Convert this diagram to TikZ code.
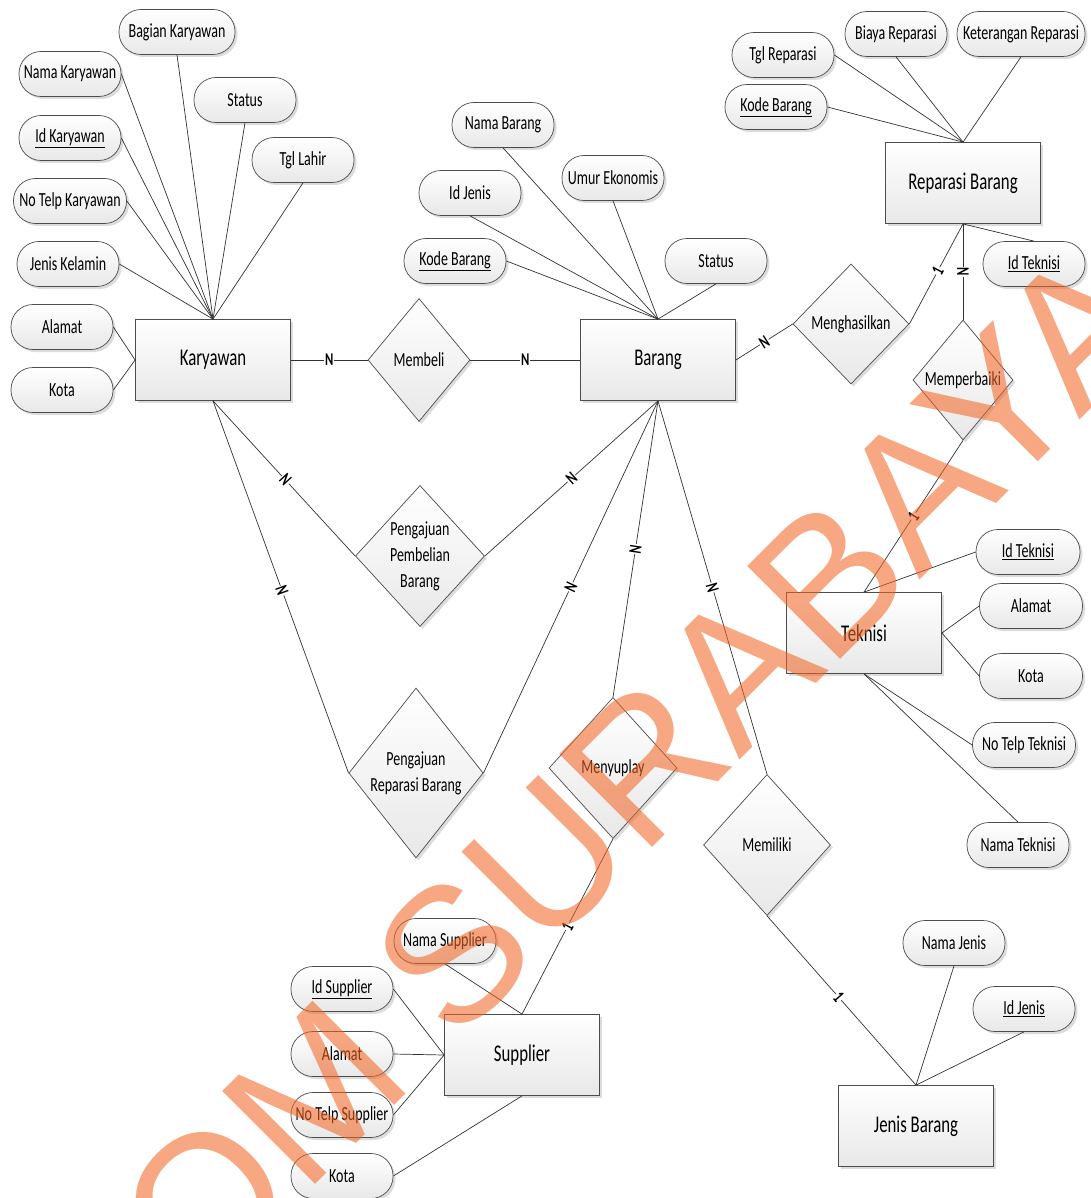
\documentclass[tikz,border=0pt]{standalone}
\usepackage{fontspec}
\setmainfont{Carlito}[FakeStretch=0.7]
\newfontfamily\stampfont{Liberation Sans}
\usetikzlibrary{shapes.geometric,shadows}
\definecolor{stamp}{RGB}{242,101,34}
\tikzset{
  softshadow/.style={drop shadow={shadow xshift=2.5pt,shadow yshift=-2.5pt,fill=black!30,opacity=0.45}},
  conn/.style={draw=black!80,line width=0.7pt},
  entity/.style={rectangle,draw=black!70,line width=0.8pt,top color=white,bottom color=black!9,
    minimum width=155pt,minimum height=81pt,inner sep=1pt,softshadow,
    font=\fontsize{24}{28}\selectfont},
  attr/.style={rectangle,rounded corners=22pt,draw=black!70,line width=0.7pt,top color=white,
    bottom color=black!9,minimum width=102pt,minimum height=45pt,inner sep=1pt,softshadow,
    font=\fontsize{20}{24}\selectfont},
  rel/.style={diamond,draw=black!70,line width=0.7pt,top color=white,bottom color=black!9,
    inner sep=0pt,align=center,softshadow,font=\fontsize{20}{26}\selectfont},
  card/.style={sloped,fill=white,inner sep=0.8pt,font=\fontsize{18}{18}\selectfont\bfseries}
}
\begin{document}
\begin{tikzpicture}[x=1pt,y=-1pt]
\useasboundingbox (0,0) rectangle (1091,1198);
\fill[white] (0,0) rectangle (1091,1198);

% entities
\node[entity] (kar) at (213,360) {Karyawan};
\node[entity] (barang) at (658,360) {Barang};
\node[entity] (rep) at (963,183) {Reparasi Barang};
\node[entity] (tek) at (864,633) {Teknisi};
\node[entity] (sup) at (522,1055) {Supplier};
\node[entity] (jenis) at (916,1126) {Jenis Barang};

% relationships
\node[rel,minimum width=102pt,minimum height=123pt] (membeli) at (419,360) {Membeli};
\node[rel,minimum width=116pt,minimum height=120pt] (mengh) at (851,324) {Menghasilkan};
\node[rel,minimum width=100pt,minimum height=120pt] (memp) at (963,380) {Memperbaiki};
\node[rel,minimum width=128pt,minimum height=141pt] (pp) at (420,556) {Pengajuan\\Pembelian\\Barang};
\node[rel,minimum width=129pt,minimum height=170pt] (pr) at (416,773) {Pengajuan\\Reparasi Barang};
\node[rel,minimum width=128pt,minimum height=141pt] (meny) at (613,768) {Menyuplay};
\node[rel,minimum width=127pt,minimum height=141pt] (memil) at (767,845) {Memiliki};

% attributes of Karyawan
\node[attr,minimum width=116pt] (bagk) at (177,32) {Bagian Karyawan};
\node[attr] (namak) at (70,74) {Nama Karyawan};
\node[attr] (statk) at (245,100) {Status};
\node[attr] (tgll) at (303,160) {Tgl Lahir};
\node[attr] (idk) at (70,138) {\underline{Id Karyawan}};
\node[attr,minimum width=113pt] (telpk) at (70,201) {No Telp Karyawan};
\node[attr] (jk) at (68,264) {Jenis Kelamin};
\node[attr] (alamk) at (62,327) {Alamat};
\node[attr] (kotak) at (62,390) {Kota};

% attributes of Barang
\node[attr] (namab) at (503,125) {Nama Barang};
\node[attr] (idjb) at (470,193) {Id Jenis};
\node[attr] (kodeb) at (455,261) {\underline{Kode Barang}};
\node[attr] (umur) at (613,178) {Umur Ekonomis};
\node[attr] (statb) at (716,261) {Status};

% attributes of Reparasi Barang
\node[attr] (tglr) at (783,55) {Tgl Reparasi};
\node[attr] (biaya) at (896,34) {Biaya Reparasi};
\node[attr,minimum width=128pt] (ket) at (1021,34) {Keterangan Reparasi};
\node[attr] (koder) at (776,107) {\underline{Kode Barang}};
\node[attr] (idtr) at (1034,264) {\underline{Id Teknisi}};

% attributes of Teknisi
\node[attr,minimum width=104pt] (idt) at (1028,552) {\underline{Id Teknisi}};
\node[attr,minimum width=103pt] (alt) at (1031,606) {Alamat};
\node[attr,minimum width=103pt] (kotat) at (1031,676) {Kota};
\node[attr,minimum width=103pt] (telpt) at (1024,745) {No Telp Teknisi};
\node[attr] (namat) at (1018,845) {Nama Teknisi};

% attributes of Supplier
\node[attr] (namas) at (445,941) {Nama Supplier};
\node[attr] (ids) at (342,989) {\underline{Id Supplier}};
\node[attr] (alams) at (342,1054) {Alamat};
\node[attr] (telps) at (342,1115) {No Telp Supplier};
\node[attr] (kotas) at (342,1176) {Kota};

% attributes of Jenis Barang
\node[attr] (namaj) at (954,943) {Nama Jenis};
\node[attr] (idj) at (1024,1009) {\underline{Id Jenis}};

% attribute links
\foreach \a in {bagk.south,namak.east,statk.south,tgll.south,idk.east,telpk.east,jk.east}
  \draw[conn] (\a) -- (kar.north);
\foreach \a in {alamk.east,kotak.east}
  \draw[conn] (\a) -- (kar.west);
\foreach \a in {namab.south,idjb.south,kodeb.east,umur.south,statb.south}
  \draw[conn] (\a) -- (barang.north);
\foreach \a in {tglr.east,biaya.south,ket.south,koder.east}
  \draw[conn] (\a) -- (rep.north);
\draw[conn] (rep.south) -- (idtr.north);
\draw[conn] (idt.west) -- (tek.north);
\draw[conn] (alt.west) -- (tek.east);
\draw[conn] (kotat.west) -- (tek.east);
\draw[conn] (telpt.west) -- (tek.south);
\draw[conn] (namat.north) -- (tek.south);
\draw[conn] (namas.south) -- (sup.north);
\foreach \a in {ids.east,alams.east,telps.east}
  \draw[conn] (\a) -- (sup.west);
\draw[conn] (kotas.east) -- (sup.south);
\draw[conn] (namaj.south) -- (jenis.north);
\draw[conn] (idj.south) -- (jenis.north);

% relationship links with cardinalities
\draw[conn] (kar.east) -- node[card]{N} (membeli.west);
\draw[conn] (membeli.east) -- node[card]{N} (barang.west);
\draw[conn] (barang.east) -- node[card]{N} (mengh.west);
\draw[conn] (mengh.east) -- node[card,pos=0.53]{1} (rep.south);
\draw[conn] (rep.south) -- node[card]{N} (memp.north);
\draw[conn] (memp.south) -- node[card]{1} (tek.north);
\draw[conn] (kar.south) -- node[card,pos=0.51]{N} (pp.west);
\draw[conn] (barang.south) -- node[card]{N} (pp.east);
\draw[conn] (kar.south) -- node[card,pos=0.51]{N} (pr.west);
\draw[conn] (barang.south) -- node[card]{N} (pr.east);
\draw[conn] (barang.south) -- node[card]{N} (meny.north);
\draw[conn] (meny.south) -- node[card]{1} (sup.north);
\draw[conn] (barang.south) -- node[card]{N} (memil.north);
\draw[conn] (memil.south) -- node[card,pos=0.48]{1} (jenis.north);

% stamp across the sheet
\begin{scope}
  \clip (0,0) rectangle (1091,1198);
  \node[rotate=45,anchor=base west,inner sep=0pt,text=stamp,text opacity=0.57,
    font=\stampfont\fontsize{191}{191}\selectfont] (stamp) at (-101,1601) {STIKOM SURABAYA};
\end{scope}
\end{tikzpicture}
\end{document}
